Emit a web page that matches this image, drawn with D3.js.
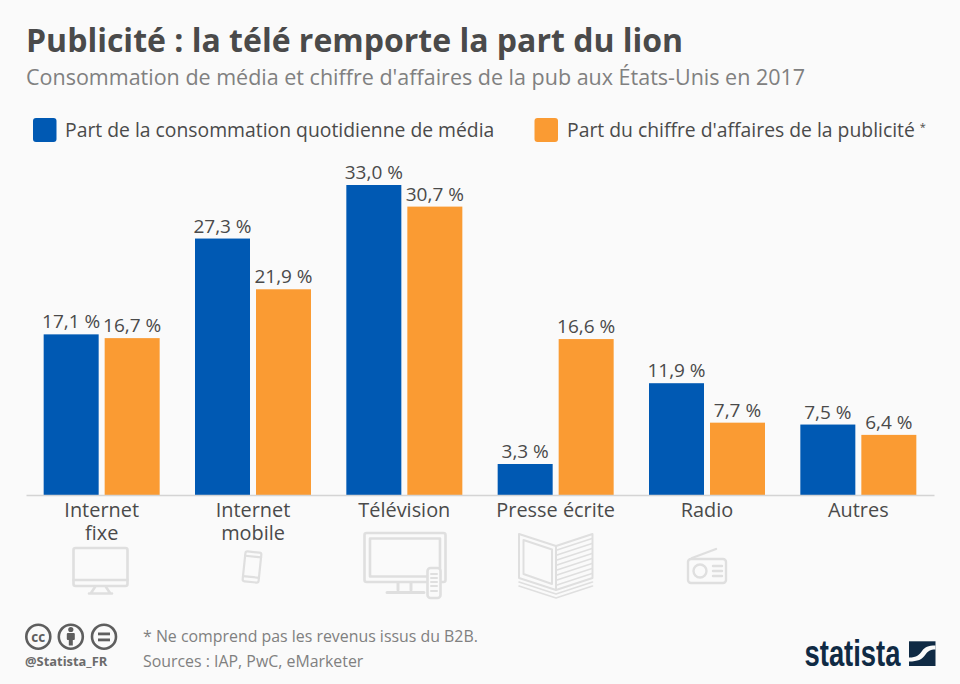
<!DOCTYPE html>
<html lang="fr">
<head>
<meta charset="utf-8">
<title>Publicité : la télé remporte la part du lion</title>
<script src="https://cdnjs.cloudflare.com/ajax/libs/d3/7.8.5/d3.min.js"></script>
<style>
  html, body { margin: 0; padding: 0; background: #fafafa; }
  svg { display: block; font-family: "Open Sans", sans-serif; }
  .icon { fill: none; stroke: #dfdfdf; stroke-linejoin: round; stroke-linecap: round; }
</style>
</head>
<body>
<svg id="chart" width="960" height="684"></svg>
<script>
const categories = [['Internet', 'fixe'], ['Internet', 'mobile'], ['Télévision'], ['Presse écrite'], ['Radio'], ['Autres']];
const consommation = [17.1, 27.3, 33.0, 3.3, 11.9, 7.5];
const chiffreAffaires = [16.7, 21.9, 30.7, 16.6, 7.7, 6.4];
const seriesNames = ['Part de la consommation quotidienne de média', "Part du chiffre d'affaires de la publicité"];
const seriesColors = ['#0059b3', '#fa9b33'];

const svg = d3.select('#chart');
const ink = '#4a4a4a';

// header
svg.append('text').attr('x', 26).attr('y', 52)
  .attr('font-size', 32).attr('font-weight', 700).attr('fill', ink)
  .text('Publicité : la télé remporte la part du lion');
svg.append('text').attr('x', 26).attr('y', 85)
  .attr('font-size', 21.5).attr('fill', '#808080')
  .text("Consommation de média et chiffre d'affaires de la pub aux États-Unis en 2017");

// legend
[[33, 65], [534.5, 567]].forEach(([bx, tx], i) => {
  svg.append('rect').attr('x', bx).attr('y', 118).attr('width', 23.5).attr('height', 24)
    .attr('rx', 3).attr('fill', seriesColors[i]);
  const t = svg.append('text').attr('x', tx).attr('y', 137)
    .attr('font-size', 19.35).attr('fill', ink).text(seriesNames[i]);
  if (i === 1) t.append('tspan').attr('dx', 5).attr('dy', -6).attr('font-size', 11).text('*');
});

// scales
const x = d3.scaleBand().domain(d3.range(categories.length)).range([26, 934]);
const y = d3.scaleLinear().domain([0, 33]).range([495, 185]);
const barW = 55, gap = 6;
const fmt = v => v.toFixed(1).replace('.', ',') + ' %';

[consommation, chiffreAffaires].forEach((vals, s) => {
  const bx = i => x(i) + x.bandwidth() / 2 + (s === 0 ? -barW - gap / 2 : gap / 2);
  svg.append('g').selectAll('rect').data(vals).join('rect')
    .attr('x', (d, i) => bx(i))
    .attr('y', d => y(d))
    .attr('width', barW)
    .attr('height', d => y(0) - y(d))
    .attr('fill', seriesColors[s]);
  svg.append('g').selectAll('text').data(vals).join('text')
    .attr('x', (d, i) => bx(i) + barW / 2)
    .attr('y', d => y(d) - 6)
    .attr('text-anchor', 'middle')
    .attr('font-size', 19).attr('fill', ink)
    .text(fmt);
});

// x axis
const axis = svg.append('g').attr('transform', `translate(0,${y(0)})`)
  .call(d3.axisBottom(x).tickSize(0).tickFormat(''));
axis.select('.domain').attr('stroke', '#d4d4d4').attr('stroke-width', 1.5);
axis.selectAll('.tick text').remove();
axis.selectAll('.tick').append('text')
  .attr('text-anchor', 'middle').attr('fill', ink).attr('font-size', 19.9)
  .attr('font-family', '"Open Sans", sans-serif')
  .each(function (d) {
    d3.select(this).selectAll('tspan').data(categories[d]).join('tspan')
      .attr('x', 0).attr('y', (l, k) => 22 + k * 22.5).text(l => l);
  });

// icons
const icons = svg.append('g').attr('class', 'icon');

// monitor
const mon = icons.append('g').attr('stroke-width', 2.6);
mon.append('rect').attr('x', 73.5).attr('y', 548).attr('width', 54).attr('height', 38).attr('rx', 2);
mon.append('line').attr('x1', 73.5).attr('x2', 127.5).attr('y1', 580).attr('y2', 580);
mon.append('path').attr('d', 'M95 587L91 593M106 587L110 593M89 593.5H112');

// phone
const phone = icons.append('g').attr('stroke-width', 2.2).attr('transform', 'rotate(6 252 567)');
phone.append('rect').attr('x', 244).attr('y', 552).attr('width', 16).attr('height', 30).attr('rx', 2);
phone.append('path').attr('d', 'M244 556.5H260M244 577H260');

// television with remote
const tv = icons.append('g').attr('stroke-width', 2.6);
tv.append('rect').attr('x', 364.5).attr('y', 533).attr('width', 81).attr('height', 49).attr('rx', 2);
tv.append('rect').attr('x', 370).attr('y', 538.5).attr('width', 70).attr('height', 38);
tv.append('path').attr('d', 'M398 583V590M411 583V590M387 592.5H424').attr('stroke-width', 3);
tv.append('rect').attr('x', 427.5).attr('y', 568).attr('width', 13).attr('height', 30).attr('rx', 3).attr('fill', '#fafafa');
tv.append('path').attr('d', 'M431 574H437M431 578H437M431 582H437M431 586H437M431 591H437').attr('stroke-width', 2);

// newspaper
const news = icons.append('g').attr('stroke-width', 2);
news.append('path').attr('d', 'M519 534L556 546V590L519 578Z');
news.append('path').attr('d', 'M523.5 540L552 549.5V584L523.5 574Z');
news.append('path').attr('d', 'M556 546L592.5 534V578L556 590');
d3.range(8).forEach(k => {
  news.append('line').attr('x1', 557).attr('x2', 592)
    .attr('y1', 550 + k * 5).attr('y2', 538.5 + k * 5).attr('stroke-width', 1.5);
});
news.append('path').attr('d', 'M519 582L556 594L592.5 582M519 586L556 598L592.5 586').attr('stroke-width', 1.6);

// radio
const radio = icons.append('g').attr('stroke-width', 2.4);
radio.append('rect').attr('x', 688).attr('y', 559).attr('width', 38).attr('height', 24).attr('rx', 3);
radio.append('path').attr('d', 'M692 558L716 549');
radio.append('circle').attr('cx', 700).attr('cy', 571).attr('r', 6.5);
radio.append('path').attr('d', 'M713 566H722M713 571H722M713 576H722');

// cc badges
const gray = '#5e5e5e';
const badges = svg.append('g').attr('fill', 'none').attr('stroke', gray).attr('stroke-width', 2.6);
[38.3, 70.8, 104].forEach(cx => badges.append('circle').attr('cx', cx).attr('cy', 636.7).attr('r', 12));
svg.append('text').attr('x', 38.3).attr('y', 641.5).attr('text-anchor', 'middle')
  .attr('font-size', 13.5).attr('font-weight', 700).attr('fill', gray).text('cc');
const by = svg.append('g').attr('fill', gray);
by.append('circle').attr('cx', 70.8).attr('cy', 629.5).attr('r', 2.6);
by.append('rect').attr('x', 66.8).attr('y', 633).attr('width', 8).attr('height', 7).attr('rx', 1);
by.append('rect').attr('x', 68.8).attr('y', 639).attr('width', 4).attr('height', 6.5);
const eq = svg.append('g').attr('fill', gray);
eq.append('rect').attr('x', 98).attr('y', 632.5).attr('width', 12).attr('height', 2.8);
eq.append('rect').attr('x', 98).attr('y', 638.5).attr('width', 12).attr('height', 2.8);
svg.append('text').attr('x', 25).attr('y', 666)
  .attr('font-size', 12.9).attr('font-weight', 700).attr('fill', '#6b6b6b').text('@Statista_FR');

// footer notes
svg.append('text').attr('x', 143).attr('y', 642)
  .attr('font-size', 15.9).attr('fill', '#808080').text('* Ne comprend pas les revenus issus du B2B.');
svg.append('text').attr('x', 143).attr('y', 667)
  .attr('font-size', 15.9).attr('fill', '#808080').text('Sources : IAP, PwC, eMarketer');

// statista wordmark
const navy = '#0f2a44';
svg.append('text').attr('x', 804.5).attr('y', 666)
  .attr('font-family', '"Liberation Sans Narrow", "Liberation Sans", sans-serif')
  .attr('font-size', 36).attr('font-weight', 700).attr('fill', navy)
  .attr('textLength', 96).attr('lengthAdjust', 'spacingAndGlyphs').text('statista');
svg.append('rect').attr('x', 909).attr('y', 641.3).attr('width', 26.5).attr('height', 24.7).attr('fill', navy);
svg.append('path').attr('fill', '#fafafa')
  .attr('d', 'M909 657.5C917 657.5 919 655 922 651C925 647 928 645.5 935.5 645.5V649.5C930 649.5 928 651 925.5 654.5C922 659.5 918 661.5 909 661.5Z');
</script>
</body>
</html>
